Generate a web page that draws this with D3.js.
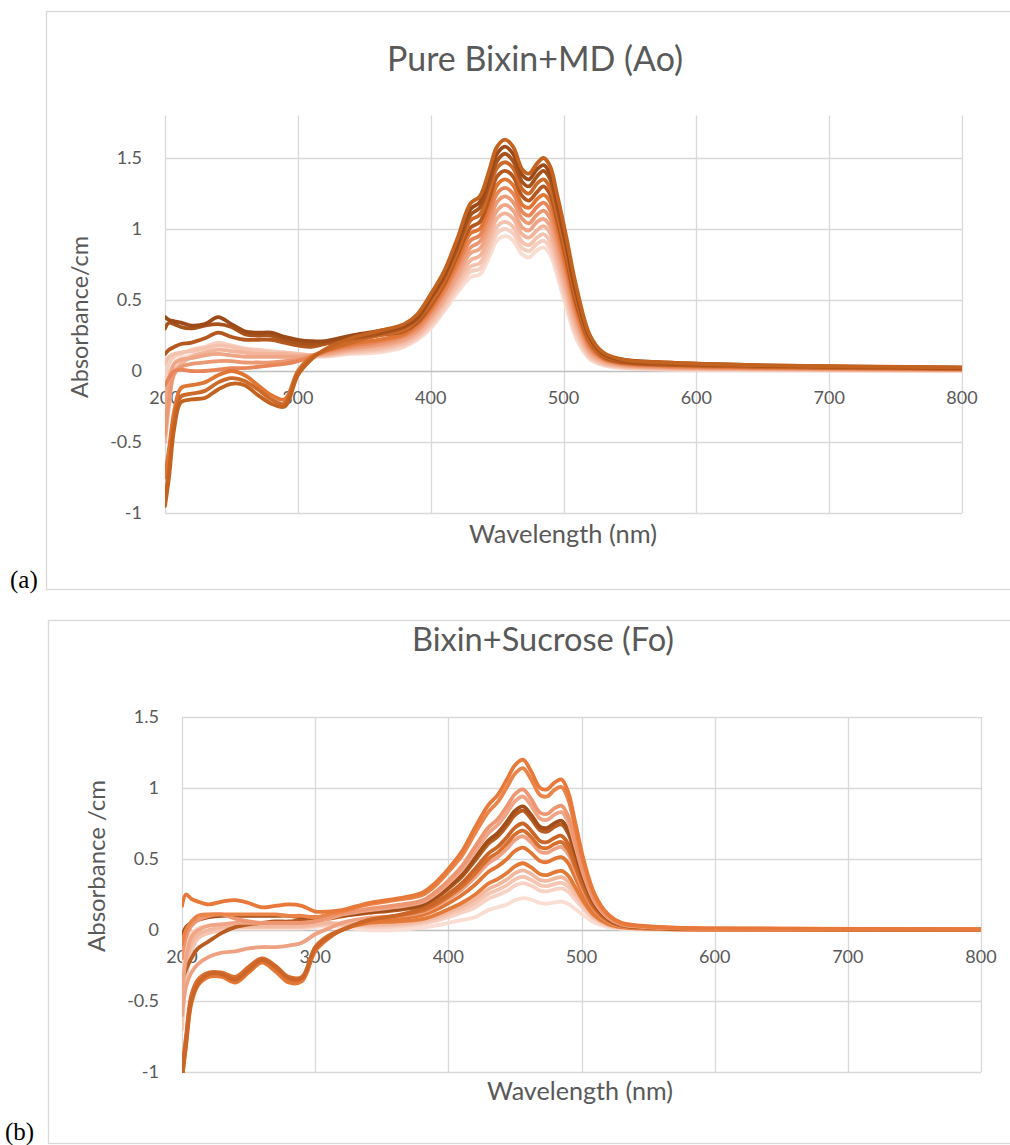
<!DOCTYPE html>
<html>
<head>
<meta charset="utf-8">
<script src="https://cdn.jsdelivr.net/npm/d3@7"></script>
<style>
  body { margin: 0; background: #fff; }
  svg { display: block; }
</style>
</head>
<body>
<svg id="fig" width="1010" height="1145"></svg>
<script>
// Shared wavelength grid (nm) the spectra were read at
const wavelengths = [200, 203, 207, 212, 220, 230, 240, 250, 260, 270, 280, 290, 300, 310,
  320, 340, 360, 380, 390, 400, 410, 420, 430, 437, 444, 450, 456, 462, 469, 474,
  480, 485, 490, 495, 502, 510, 520, 530, 545, 575, 650, 800];

const xTicks = [200, 300, 400, 500, 600, 700, 800];
const yTicksA = [-1, -0.5, 0, 0.5, 1, 1.5];
const yTicksF = [-1, -0.5, 0, 0.5, 1, 1.5];

// (a) Pure Bixin+MD (Ao) - absorbance per series
const A01 = [-0.95, -0.75, -0.4, -0.22, -0.2, -0.19, -0.13, -0.09, -0.1, -0.17, -0.23, -0.25, -0.03, 0.08,
  0.15, 0.23, 0.28, 0.33, 0.40, 0.54, 0.70, 0.93, 1.18, 1.23, 1.41, 1.58, 1.63, 1.58, 1.42, 1.39, 1.46, 1.50, 1.44, 1.25, 0.95, 0.58, 0.25, 0.13, 0.08, 0.06, 0.04, 0.025];
const A02 = [0.38, 0.36, 0.35, 0.34, 0.32, 0.33, 0.38, 0.33, 0.28, 0.27, 0.27, 0.24, 0.22, 0.21,
  0.21, 0.25, 0.28, 0.32, 0.39, 0.52, 0.68, 0.90, 1.14, 1.19, 1.37, 1.53, 1.58, 1.53, 1.38, 1.35, 1.42, 1.45, 1.39, 1.21, 0.91, 0.55, 0.24, 0.12, 0.08, 0.06, 0.04, 0.023];
const A03 = [0.30, 0.34, 0.33, 0.31, 0.30, 0.32, 0.33, 0.31, 0.26, 0.25, 0.25, 0.22, 0.20, 0.19,
  0.20, 0.23, 0.26, 0.31, 0.37, 0.51, 0.66, 0.87, 1.10, 1.15, 1.32, 1.48, 1.53, 1.48, 1.33, 1.30, 1.37, 1.41, 1.35, 1.17, 0.88, 0.53, 0.23, 0.12, 0.07, 0.05, 0.035, 0.021];
const A04 = [-0.9, -0.7, -0.35, -0.18, -0.16, -0.14, -0.08, -0.05, -0.07, -0.13, -0.2, -0.23, -0.01, 0.09,
  0.14, 0.20, 0.25, 0.29, 0.36, 0.48, 0.63, 0.84, 1.06, 1.10, 1.27, 1.43, 1.47, 1.43, 1.28, 1.25, 1.32, 1.35, 1.29, 1.12, 0.83, 0.50, 0.21, 0.11, 0.07, 0.05, 0.03, 0.019];
const A05 = [0.12, 0.15, 0.17, 0.19, 0.20, 0.23, 0.27, 0.24, 0.22, 0.22, 0.22, 0.20, 0.18, 0.17,
  0.19, 0.22, 0.25, 0.28, 0.34, 0.46, 0.61, 0.81, 1.01, 1.05, 1.21, 1.37, 1.41, 1.37, 1.23, 1.20, 1.26, 1.30, 1.24, 1.07, 0.79, 0.46, 0.20, 0.10, 0.06, 0.045, 0.03, 0.017];
const A06 = [-0.75, -0.55, -0.28, -0.12, -0.1, -0.08, -0.03, 0.0, -0.03, -0.1, -0.17, -0.2, 0.0, 0.1,
  0.14, 0.19, 0.22, 0.26, 0.33, 0.44, 0.59, 0.77, 0.97, 1.00, 1.16, 1.31, 1.35, 1.31, 1.17, 1.15, 1.21, 1.24, 1.19, 1.02, 0.74, 0.43, 0.18, 0.09, 0.055, 0.04, 0.026, 0.015];
const A07 = [-0.1, -0.05, 0.0, 0.01, 0.0, 0.0, 0.01, 0.02, 0.02, 0.03, 0.04, 0.05, 0.07, 0.1,
  0.135, 0.175, 0.205, 0.25, 0.31, 0.42, 0.56, 0.74, 0.92, 0.955, 1.105, 1.25, 1.29, 1.25, 1.12, 1.095, 1.155, 1.185, 1.13, 0.965, 0.70, 0.40, 0.165, 0.085, 0.05, 0.035, 0.022, 0.012];
const A08 = [-0.45, -0.2, -0.02, 0.03, 0.05, 0.06, 0.07, 0.07, 0.06, 0.06, 0.06, 0.07, 0.08, 0.1,
  0.13, 0.165, 0.19, 0.24, 0.29, 0.40, 0.54, 0.71, 0.87, 0.91, 1.05, 1.19, 1.23, 1.19, 1.07, 1.04, 1.10, 1.13, 1.075, 0.915, 0.66, 0.37, 0.15, 0.08, 0.045, 0.03, 0.02, 0.01];
const A09 = [-0.3, -0.05, 0.05, 0.08, 0.09, 0.11, 0.12, 0.11, 0.1, 0.1, 0.1, 0.1, 0.1, 0.11,
  0.12, 0.155, 0.18, 0.22, 0.28, 0.38, 0.51, 0.67, 0.83, 0.86, 1.00, 1.13, 1.17, 1.13, 1.01, 0.99, 1.05, 1.07, 1.02, 0.865, 0.61, 0.34, 0.135, 0.07, 0.04, 0.026, 0.016, 0.008];
const A10 = [-0.5, -0.25, 0.0, 0.05, 0.1, 0.13, 0.15, 0.14, 0.13, 0.12, 0.12, 0.12, 0.11, 0.11,
  0.115, 0.145, 0.165, 0.21, 0.26, 0.36, 0.49, 0.64, 0.78, 0.81, 0.94, 1.075, 1.11, 1.075, 0.96, 0.94, 0.99, 1.02, 0.97, 0.81, 0.57, 0.305, 0.12, 0.06, 0.034, 0.022, 0.013, 0.006];
const A11 = [0.05, 0.1, 0.12, 0.13, 0.14, 0.16, 0.18, 0.17, 0.15, 0.14, 0.13, 0.13, 0.12, 0.11,
  0.11, 0.136, 0.152, 0.194, 0.246, 0.335, 0.46, 0.606, 0.736, 0.76, 0.89, 1.017, 1.05, 1.017, 0.908, 0.887, 0.94, 0.963, 0.911, 0.764, 0.524, 0.273, 0.105, 0.053, 0.029, 0.017, 0.01, 0.004];
const A12 = [-0.2, 0.05, 0.1, 0.12, 0.15, 0.17, 0.2, 0.18, 0.16, 0.15, 0.14, 0.13, 0.12, 0.11,
  0.105, 0.128, 0.141, 0.182, 0.233, 0.318, 0.44, 0.578, 0.70, 0.72, 0.845, 0.969, 1.00, 0.969, 0.864, 0.844, 0.895, 0.917, 0.866, 0.722, 0.487, 0.247, 0.093, 0.047, 0.024, 0.014, 0.008, 0.002];
const A13 = [-0.35, -0.1, 0.06, 0.09, 0.11, 0.13, 0.15, 0.14, 0.13, 0.12, 0.11, 0.1, 0.1, 0.1,
  0.10, 0.12, 0.13, 0.17, 0.22, 0.30, 0.42, 0.55, 0.66, 0.68, 0.80, 0.92, 0.95, 0.92, 0.82, 0.80, 0.85, 0.87, 0.82, 0.68, 0.45, 0.22, 0.08, 0.04, 0.02, 0.01, 0.005, 0.0];

const seriesA = [A01, A02, A03, A04, A05, A06, A07, A08, A09, A10, A11, A12, A13];
const colorsA = ['#C4621F', '#9C4A18', '#A8521C', '#CD6A2A', '#B5581F', '#E07534', '#E8865A',
  '#EC9872', '#EFA686', '#F2B49A', '#F5C2AE', '#F7CFC0', '#FADCD1'];

// (b) Bixin+Sucrose (Fo)
const F01 = [0.17, 0.25, 0.22, 0.20, 0.18, 0.20, 0.21, 0.19, 0.16, 0.17, 0.18, 0.17, 0.13, 0.13,
  0.14, 0.19, 0.22, 0.26, 0.33, 0.43, 0.55, 0.72, 0.88, 0.95, 1.06, 1.16, 1.20, 1.12, 1.00, 0.99, 1.04, 1.06, 0.97, 0.77, 0.48, 0.25, 0.11, 0.05, 0.03, 0.015, 0.01, 0.005];
const F02 = [-0.1, 0.0, 0.06, 0.1, 0.11, 0.11, 0.11, 0.11, 0.11, 0.11, 0.1, 0.1, 0.09, 0.11,
  0.13, 0.18, 0.21, 0.245, 0.31, 0.41, 0.52, 0.68, 0.83, 0.90, 1.005, 1.10, 1.14, 1.064, 0.95, 0.94, 0.988, 1.007, 0.92, 0.73, 0.456, 0.238, 0.104, 0.048, 0.028, 0.014, 0.009, 0.005];
const F03 = [-0.2, -0.05, 0.03, 0.07, 0.1, 0.11, 0.08, 0.06, 0.05, 0.05, 0.05, 0.05, 0.06, 0.09,
  0.114, 0.149, 0.173, 0.207, 0.266, 0.348, 0.447, 0.585, 0.721, 0.78, 0.871, 0.956, 0.99, 0.925, 0.826, 0.817, 0.858, 0.875, 0.801, 0.637, 0.398, 0.207, 0.091, 0.041, 0.025, 0.012, 0.008, 0.004];
const F04 = [-0.45, -0.2, -0.05, 0.0, 0.03, 0.04, 0.05, 0.05, 0.05, 0.05, 0.05, 0.05, 0.06, 0.08,
  0.108, 0.139, 0.161, 0.195, 0.25, 0.329, 0.422, 0.552, 0.682, 0.739, 0.825, 0.906, 0.94, 0.878, 0.784, 0.775, 0.814, 0.83, 0.76, 0.604, 0.379, 0.197, 0.086, 0.039, 0.023, 0.011, 0.007, 0.004];
const F05 = [-0.05, 0.02, 0.05, 0.07, 0.09, 0.1, 0.1, 0.1, 0.1, 0.1, 0.1, 0.09, 0.09, 0.09,
  0.10, 0.126, 0.146, 0.177, 0.229, 0.302, 0.388, 0.507, 0.63, 0.683, 0.763, 0.839, 0.87, 0.814, 0.726, 0.718, 0.754, 0.769, 0.705, 0.56, 0.352, 0.182, 0.08, 0.036, 0.022, 0.01, 0.007, 0.003];
const F06 = [-0.35, -0.28, -0.2, -0.13, -0.08, -0.02, 0.02, 0.04, 0.05, 0.06, 0.06, 0.07, 0.07, 0.08,
  0.096, 0.12, 0.139, 0.17, 0.219, 0.29, 0.373, 0.488, 0.607, 0.658, 0.735, 0.809, 0.84, 0.786, 0.701, 0.693, 0.728, 0.743, 0.68, 0.541, 0.34, 0.176, 0.077, 0.035, 0.021, 0.009, 0.006, 0.003];
const F07 = [-1.05, -0.8, -0.5, -0.38, -0.31, -0.31, -0.35, -0.28, -0.21, -0.26, -0.34, -0.34, -0.13, -0.05,
  0.0, 0.07, 0.10, 0.147, 0.191, 0.254, 0.328, 0.429, 0.538, 0.585, 0.653, 0.721, 0.75, 0.702, 0.626, 0.618, 0.65, 0.663, 0.607, 0.484, 0.304, 0.158, 0.068, 0.032, 0.018, 0.008, 0.005, 0.003];
const F08 = [-0.98, -0.75, -0.46, -0.35, -0.3, -0.3, -0.33, -0.26, -0.2, -0.25, -0.33, -0.33, -0.12, -0.04,
  0.0, 0.07, 0.10, 0.134, 0.176, 0.235, 0.304, 0.397, 0.50, 0.545, 0.609, 0.673, 0.70, 0.656, 0.584, 0.577, 0.607, 0.619, 0.567, 0.452, 0.285, 0.147, 0.064, 0.029, 0.017, 0.007, 0.005, 0.002];
const F09 = [-0.6, -0.4, -0.3, -0.24, -0.19, -0.16, -0.15, -0.13, -0.12, -0.12, -0.11, -0.09, -0.03, 0.01,
  0.05, 0.085, 0.098, 0.124, 0.164, 0.219, 0.284, 0.371, 0.47, 0.512, 0.572, 0.634, 0.66, 0.619, 0.551, 0.544, 0.572, 0.584, 0.535, 0.427, 0.269, 0.139, 0.06, 0.028, 0.016, 0.007, 0.004, 0.002];
const F10 = [-1.05, -0.78, -0.48, -0.36, -0.32, -0.32, -0.36, -0.29, -0.22, -0.28, -0.36, -0.35, -0.14, -0.05,
  0.0, 0.06, 0.08, 0.104, 0.139, 0.188, 0.245, 0.319, 0.409, 0.448, 0.50, 0.556, 0.58, 0.544, 0.485, 0.478, 0.503, 0.513, 0.471, 0.376, 0.238, 0.123, 0.053, 0.025, 0.014, 0.005, 0.004, 0.002];
const F11 = [-1.05, -0.82, -0.52, -0.39, -0.33, -0.33, -0.37, -0.3, -0.23, -0.29, -0.37, -0.36, -0.15, -0.06,
  0.0, 0.05, 0.06, 0.076, 0.105, 0.145, 0.19, 0.248, 0.326, 0.358, 0.401, 0.448, 0.47, 0.442, 0.393, 0.387, 0.407, 0.416, 0.382, 0.306, 0.195, 0.10, 0.043, 0.02, 0.011, 0.004, 0.003, 0.001];
const F12 = [-0.5, -0.25, -0.1, -0.03, 0.0, 0.02, 0.03, 0.03, 0.03, 0.03, 0.03, 0.03, 0.04, 0.05,
  0.044, 0.038, 0.044, 0.064, 0.09, 0.126, 0.166, 0.216, 0.288, 0.318, 0.356, 0.40, 0.42, 0.396, 0.352, 0.346, 0.364, 0.372, 0.342, 0.274, 0.176, 0.09, 0.038, 0.018, 0.01, 0.003, 0.002, 0.001];
const F13 = [-0.7, -0.35, -0.15, -0.06, -0.02, 0.0, 0.02, 0.02, 0.02, 0.02, 0.02, 0.02, 0.03, 0.04,
  0.038, 0.029, 0.034, 0.053, 0.076, 0.109, 0.144, 0.187, 0.254, 0.282, 0.316, 0.356, 0.375, 0.354, 0.315, 0.309, 0.325, 0.332, 0.306, 0.245, 0.159, 0.081, 0.034, 0.016, 0.009, 0.002, 0.002, 0.001];
const F14 = [-0.3, -0.12, -0.03, 0.01, 0.03, 0.04, 0.04, 0.04, 0.04, 0.04, 0.04, 0.04, 0.04, 0.04,
  0.033, 0.021, 0.024, 0.041, 0.062, 0.091, 0.122, 0.158, 0.22, 0.245, 0.275, 0.313, 0.33, 0.313, 0.277, 0.272, 0.286, 0.293, 0.27, 0.217, 0.141, 0.072, 0.03, 0.014, 0.008, 0.002, 0.001, 0.001];
const F15 = [-0.55, -0.3, -0.12, -0.05, -0.02, 0.0, 0.01, 0.01, 0.01, 0.01, 0.01, 0.01, 0.02, 0.03,
  0.02, 0.0, 0.0, 0.015, 0.03, 0.05, 0.07, 0.09, 0.14, 0.16, 0.18, 0.21, 0.225, 0.215, 0.19, 0.185, 0.195, 0.2, 0.185, 0.15, 0.10, 0.05, 0.02, 0.01, 0.005, 0.0, 0.0, 0.0];

const seriesF = [F01, F02, F03, F04, F05, F06, F07, F08, F09, F10, F11, F12, F13, F14, F15];
const colorsF = ['#E8793A', '#EA8448', '#EE9672', '#F0A686', '#A24E1A', '#B85C22', '#CB6628',
  '#D86F2E', '#EFA283', '#E27634', '#E47A38', '#F3B9A0', '#F6C6B3', '#F8D2C4', '#FADED4'];

const svg = d3.select('#fig');
const TEXT = '#595959';
const FONT = 'Lato, "Open Sans", sans-serif';

// shrink/grow font so the text spans the wanted width
function fitWidth(sel, width) {
  const w = sel.node().getComputedTextLength();
  const fs = parseFloat(sel.attr('font-size'));
  if (w > 0) sel.attr('font-size', (fs * width / w).toFixed(2));
}

function drawChart(cfg, series, colors, id) {
  const g = svg.append('g');

  // chart frame
  g.append('rect')
    .attr('x', cfg.frame[0]).attr('y', cfg.frame[1])
    .attr('width', cfg.frame[2]).attr('height', cfg.frame[3])
    .attr('fill', '#fff').attr('stroke', '#d9d9d9').attr('stroke-width', 1.3);

  const x = d3.scaleLinear().domain([200, 800]).range(cfg.xRange);
  const y = d3.scaleLinear().domain(cfg.yDomain).range(cfg.yRange);

  // gridlines
  g.append('g').selectAll('line.h')
    .data(cfg.yTicks.filter(v => v !== 0))
    .join('line')
    .attr('x1', cfg.xRange[0]).attr('x2', cfg.xRange[1])
    .attr('y1', d => Math.round(y(d)) + 0.5).attr('y2', d => Math.round(y(d)) + 0.5)
    .attr('stroke', '#d9d9d9').attr('stroke-width', 1.3);

  g.append('g').selectAll('line.v')
    .data(xTicks)
    .join('line')
    .attr('x1', d => Math.round(x(d)) + 0.5).attr('x2', d => Math.round(x(d)) + 0.5)
    .attr('y1', cfg.yRange[1]).attr('y2', cfg.yRange[0])
    .attr('stroke', '#d9d9d9').attr('stroke-width', 1.3);

  // horizontal axis at zero
  g.append('line')
    .attr('x1', cfg.xRange[0]).attr('x2', cfg.xRange[1])
    .attr('y1', Math.round(y(0)) + 0.5).attr('y2', Math.round(y(0)) + 0.5)
    .attr('stroke', '#bfbfbf').attr('stroke-width', 1.3);

  // tick labels (plain hyphen minus like the original)
  g.append('g').selectAll('text')
    .data(cfg.yTicks)
    .join('text')
    .attr('x', cfg.xRange[0] - 23)
    .attr('y', d => y(d))
    .attr('dy', '0.36em')
    .attr('text-anchor', 'end')
    .attr('font-family', FONT).attr('font-size', 18).attr('fill', TEXT)
    .text(d => String(d));

  g.append('g').selectAll('text')
    .data(xTicks)
    .join('text')
    .attr('x', d => x(d))
    .attr('y', y(0) + 27)
    .attr('dy', '0.36em')
    .attr('text-anchor', 'middle')
    .attr('font-family', FONT).attr('font-size', 18).attr('fill', TEXT)
    .text(d => d);

  // spectra
  svg.append('defs').append('clipPath').attr('id', id)
    .append('rect')
    .attr('x', cfg.xRange[0]).attr('y', cfg.yRange[1])
    .attr('width', cfg.xRange[1] - cfg.xRange[0])
    .attr('height', cfg.yRange[0] - cfg.yRange[1] + 1);

  const line = d3.line()
    .x((d, i) => x(wavelengths[i]))
    .y(d => y(d))
    .curve(d3.curveCatmullRom.alpha(0.5));

  g.append('g')
    .attr('clip-path', `url(#${id})`)
    .selectAll('path')
    .data(series.map((s, i) => ({ s, c: colors[i] })).reverse())
    .join('path')
    .attr('d', d => line(d.s))
    .attr('fill', 'none')
    .attr('stroke', d => d.c)
    .attr('stroke-width', 3.8)
    .attr('stroke-linejoin', 'round')
    .attr('stroke-linecap', 'round');

  // titles
  const title = g.append('text')
    .attr('x', cfg.title[1]).attr('y', cfg.title[2])
    .attr('text-anchor', 'middle')
    .attr('font-family', FONT).attr('font-size', 27).attr('fill', TEXT)
    .text(cfg.title[0]);
  fitWidth(title, cfg.title[3]);

  const xt = g.append('text')
    .attr('x', cfg.xTitle[1]).attr('y', cfg.xTitle[2])
    .attr('text-anchor', 'middle')
    .attr('font-family', FONT).attr('font-size', 19).attr('fill', TEXT)
    .text(cfg.xTitle[0]);
  fitWidth(xt, cfg.xTitle[3]);

  const yt = g.append('text')
    .attr('transform', `translate(${cfg.yTitle[1]},${cfg.yTitle[2]}) rotate(-90)`)
    .attr('text-anchor', 'middle')
    .attr('font-family', FONT).attr('font-size', 19).attr('fill', TEXT)
    .text(cfg.yTitle[0]);
  fitWidth(yt, cfg.yTitle[3]);

  // panel letter
  svg.append('text')
    .attr('x', cfg.letter[1]).attr('y', cfg.letter[2])
    .attr('font-family', '"Liberation Serif", "Times New Roman", serif')
    .attr('font-size', 25).attr('fill', '#000')
    .text(cfg.letter[0]);
}

drawChart({
  frame: [46.5, 11.5, 1000, 578],
  xRange: [165, 962],
  yDomain: [-1, 1.8],
  yRange: [513, 115.4],
  yTicks: yTicksA,
  title: ['Pure Bixin+MD (Ao)', 535, 71, 296],
  xTitle: ['Wavelength (nm)', 563, 543, 188],
  yTitle: ['Absorbance/cm', 88, 317, 162],
  letter: ['(a)', 10, 588]
}, seriesA, colorsA, 'clipA');

drawChart({
  frame: [48.5, 620.5, 1000, 523],
  xRange: [182, 981],
  yDomain: [-1, 1.5],
  yRange: [1072, 717],
  yTicks: yTicksF,
  title: ['Bixin+Sucrose (Fo)', 543, 651, 262],
  xTitle: ['Wavelength (nm)', 580, 1100, 186],
  yTitle: ['Absorbance /cm', 105, 866, 172],
  letter: ['(b)', 5, 1140]
}, seriesF, colorsF, 'clipF');
</script>
</body>
</html>
